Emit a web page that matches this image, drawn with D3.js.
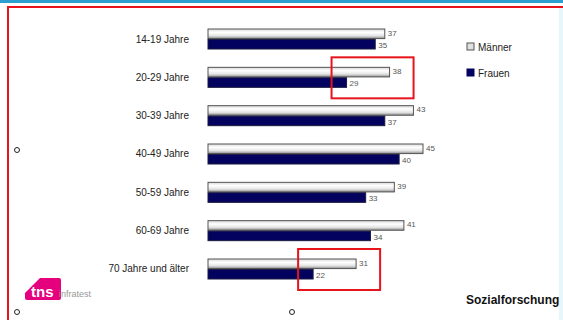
<!DOCTYPE html>
<html>
<head>
<meta charset="utf-8">
<script src="https://cdn.jsdelivr.net/npm/d3@7"></script>
<style>
  body { margin: 0; background: #fff; }
  svg { display: block; font-family: "Liberation Sans", Arial, sans-serif; }
</style>
</head>
<body>
<svg id="chart" width="563" height="320"></svg>
<script>
// Altersgruppen, Männer vs. Frauen
const categories = ['14-19 Jahre', '20-29 Jahre', '30-39 Jahre', '40-49 Jahre', '50-59 Jahre', '60-69 Jahre', '70 Jahre und älter'];
const series = ['Männer', 'Frauen'];
const maenner = [37, 38, 43, 45, 39, 41, 31];
const frauen = [35, 29, 37, 40, 33, 34, 22];
// groups marked with a red box
const highlighted = ['20-29 Jahre', '70 Jahre und älter'];

const svg = d3.select('#chart');

// page frame: blue line, red border
svg.append('rect').attr('x', 0).attr('y', 0).attr('width', 563).attr('height', 3).attr('fill', '#2a9fd0');
svg.append('rect').attr('x', 7).attr('y', 6).attr('width', 556).attr('height', 2).attr('fill', '#e8141c');
svg.append('rect').attr('x', 7).attr('y', 6).attr('width', 2).attr('height', 314).attr('fill', '#e8141c');
svg.append('rect').attr('x', 559).attr('y', 8).attr('width', 4).attr('height', 312).attr('fill', '#e6f6fb');

const defs = svg.append('defs');
const grad = defs.append('linearGradient').attr('id', 'gradM').attr('x1', 0).attr('y1', 0).attr('x2', 0).attr('y2', 1);
grad.append('stop').attr('offset', '0%').attr('stop-color', '#d8d8d8');
grad.append('stop').attr('offset', '35%').attr('stop-color', '#ffffff');
grad.append('stop').attr('offset', '70%').attr('stop-color', '#e4e4e4');
grad.append('stop').attr('offset', '100%').attr('stop-color', '#8c8c8c');

const x = d3.scaleLinear().domain([0, 45]).range([208, 423]);
const y = d3.scaleBand().domain(categories).range([29, 279]).paddingInner(0.478).paddingOuter(0);
const ySub = d3.scaleBand().domain(series).range([0, y.bandwidth()]).paddingInner(0.08);
const color = d3.scaleOrdinal().domain(series).range(['url(#gradM)', '#03035f']);
const stroke = d3.scaleOrdinal().domain(series).range(['#555', '#1a1a40']);

const rows = categories.map((c, i) => ({ cat: c, values: [
  { s: 'Männer', v: maenner[i] },
  { s: 'Frauen', v: frauen[i] }
]}));

const groups = svg.selectAll('g.group')
  .data(rows)
  .join('g')
  .attr('class', 'group')
  .attr('transform', d => `translate(0,${y(d.cat)})`);

groups.append('text')
  .attr('x', 189)
  .attr('y', y.bandwidth() / 2)
  .attr('dy', '0.35em')
  .attr('text-anchor', 'end')
  .attr('font-size', 10)
  .attr('fill', '#222')
  .text(d => d.cat);

groups.selectAll('rect')
  .data(d => d.values)
  .join('rect')
  .attr('x', x(0))
  .attr('y', d => ySub(d.s))
  .attr('width', d => x(d.v) - x(0))
  .attr('height', ySub.bandwidth())
  .attr('fill', d => color(d.s))
  .attr('stroke', d => stroke(d.s))
  .attr('stroke-width', 1);

groups.selectAll('text.val')
  .data(d => d.values)
  .join('text')
  .attr('class', 'val')
  .attr('x', d => x(d.v) + 3)
  .attr('y', d => ySub(d.s) + ySub.bandwidth() / 2 - (d.s === 'Männer' ? 1 : -1))
  .attr('dy', '0.35em')
  .attr('font-size', 8)
  .attr('fill', '#555')
  .text(d => d.v);

// red boxes around highlighted groups
highlighted.forEach(cat => {
  const i = categories.indexOf(cat);
  const left = x(Math.min(maenner[i], frauen[i])) - 15;
  svg.append('rect')
    .attr('x', left)
    .attr('y', y(cat) - 10)
    .attr('width', 82)
    .attr('height', 41)
    .attr('fill', 'none')
    .attr('stroke', '#e8141c')
    .attr('stroke-width', 2);
});

// legend
const legend = svg.append('g').attr('transform', 'translate(467,43)');
const li = legend.selectAll('g')
  .data(series)
  .join('g')
  .attr('transform', (d, i) => `translate(0,${i * 26})`);
li.append('rect')
  .attr('width', 7).attr('height', 7)
  .attr('fill', d => d === 'Männer' ? '#e0e0e0' : '#03035f')
  .attr('stroke', d => d === 'Männer' ? '#555' : '#03035f');
li.append('text')
  .attr('x', 11).attr('y', 4).attr('dy', '0.35em')
  .attr('font-size', 10).attr('fill', '#222')
  .text(d => d);

// tns infratest logo
const logo = svg.append('g');
logo.append('path')
  .attr('d', 'M40,278 L59,278 Q61,278 61,280 L61,298 Q61,300 59,300 L27,300 Q25,300 25,298 L25,293 Z')
  .attr('fill', '#e5007d');
logo.append('text')
  .attr('x', 31).attr('y', 297)
  .attr('font-size', 15).attr('font-weight', 'bold')
  .attr('fill', '#fff')
  .text('tns');
logo.append('text')
  .attr('x', 59).attr('y', 297)
  .attr('font-size', 9).attr('fill', '#999')
  .text('infratest');

svg.append('text')
  .attr('x', 466).attr('y', 304)
  .attr('font-size', 12).attr('font-weight', 'bold')
  .attr('fill', '#111')
  .text('Sozialforschung');

// selection handles
[[17, 150], [17, 312], [292, 312]].forEach(p => {
  svg.append('circle')
    .attr('cx', p[0]).attr('cy', p[1]).attr('r', 2.5)
    .attr('fill', '#fff').attr('stroke', '#222').attr('stroke-width', 1);
});
</script>
</body>
</html>
